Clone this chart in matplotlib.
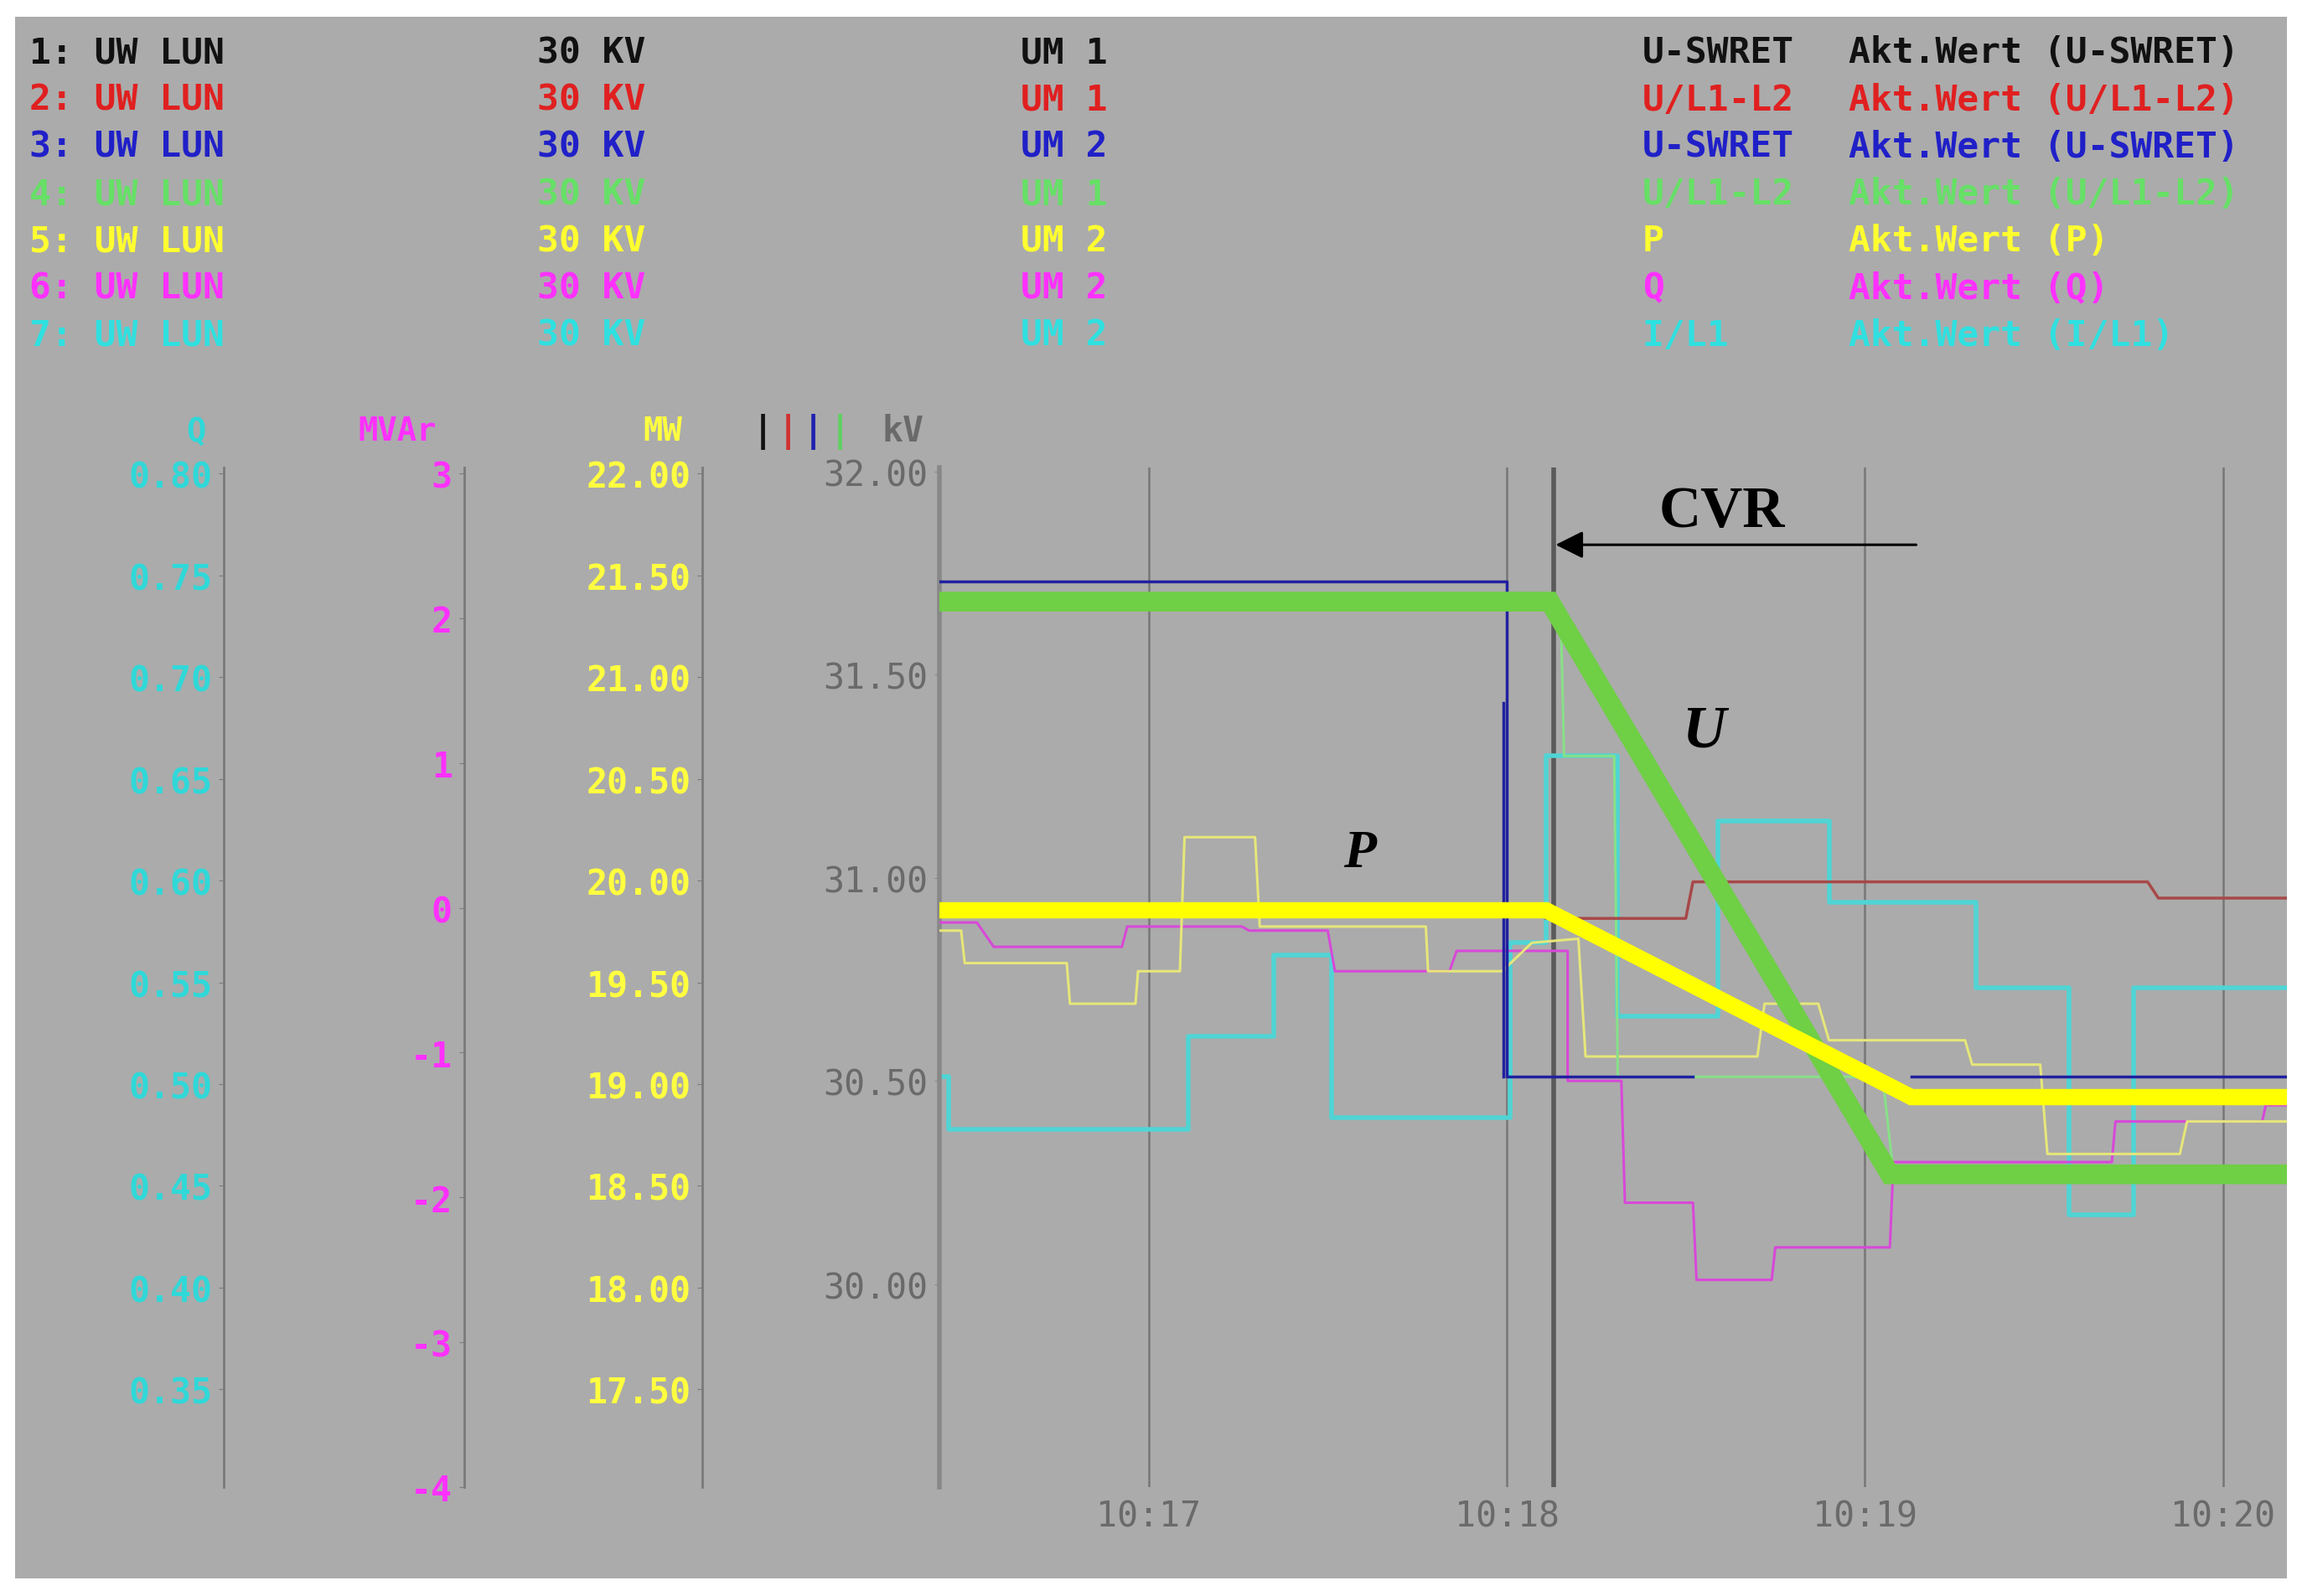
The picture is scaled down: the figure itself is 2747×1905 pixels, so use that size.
import matplotlib
matplotlib.use("Agg")
import matplotlib.pyplot as plt
from matplotlib.patches import Rectangle
import numpy as np

W, H = 1563.0, 1084.0  # reference layout units

# ---------------- data (time = minutes after 10:16, values in kV scale) -------------
t_U = [0.416, 2.12, 3.07, 4.20]
v_U = [31.68, 31.68, 30.27, 30.27]
t_P = [0.416, 2.11, 3.13, 4.20]
v_P = [30.92, 30.92, 30.46, 30.46]
t_blue = [0.416, 2.00, 2.00, 2.52, 2.60, 3.13, 4.20]
v_blue = [31.73, 31.73, 30.51, 30.51, np.nan, 30.51, 30.51]
t_blue2 = [1.99, 1.99]
v_blue2 = [31.43, 30.51]
t_red = [2.11, 2.50, 2.52, 3.79, 3.82, 4.20]
v_red = [30.90, 30.90, 30.99, 30.99, 30.95, 30.95]
t_yel = [0.416, 0.476, 0.486, 0.771, 0.78, 0.963, 0.97, 1.087, 1.10, 1.297, 1.31, 1.774, 1.78, 1.987, 2.07,
         2.20, 2.22, 2.70, 2.72, 2.87, 2.90, 3.28, 3.30, 3.49, 3.51, 3.88, 3.90, 4.20]
v_yel = [30.87, 30.87, 30.79, 30.79, 30.69, 30.69, 30.77, 30.77, 31.10, 31.10, 30.88, 30.88, 30.77, 30.77, 30.84,
         30.85, 30.56, 30.56, 30.69, 30.69, 30.60, 30.60, 30.54, 30.54, 30.32, 30.32, 30.40, 30.40]
t_mag = [0.416, 0.52, 0.567, 0.925, 0.94, 1.26, 1.28, 1.50, 1.52, 1.84, 1.86, 2.17, 2.17, 2.32, 2.33, 2.52, 2.53,
         2.74, 2.75, 3.07, 3.08, 3.69, 3.70, 4.11, 4.12, 4.20]
v_mag = [30.89, 30.89, 30.83, 30.83, 30.88, 30.88, 30.87, 30.87, 30.77, 30.77, 30.82, 30.82, 30.50, 30.50, 30.20,
         30.20, 30.01, 30.01, 30.09, 30.09, 30.30, 30.30, 30.40, 30.40, 30.44, 30.44]
t_cyan = [0.416, 0.42, 0.44, 1.10, 1.11, 1.34, 1.35, 1.50, 1.51, 2.00, 2.01, 2.10, 2.11, 2.30, 2.31,
          2.58, 2.59, 2.89, 2.90, 3.30, 3.31, 3.56, 3.57, 3.74, 3.75, 4.20]
v_cyan = [30.51, 30.51, 30.38, 30.38, 30.61, 30.61, 30.81, 30.81, 30.41, 30.41, 30.84, 30.84, 31.30, 31.30, 30.66,
          30.66, 31.14, 31.14, 30.94, 30.94, 30.73, 30.73, 30.17, 30.17, 30.73, 30.73]
t_grn = [2.10, 2.15, 2.16, 2.30, 2.31, 3.05, 3.08, 4.20]
v_grn = [31.68, 31.68, 31.30, 31.30, 30.51, 30.51, 30.27, 30.27]

kv_ticks = [32.00, 31.50, 31.00, 30.50, 30.00]
time_ticks = [1, 2, 3, 4]
time_labels = ["10:17", "10:18", "10:19", "10:20"]
mvar_ticks = [3, 2, 1, 0, -1, -2, -3, -4]
mw_ticks = [22.00, 21.50, 21.00, 20.50, 20.00, 19.50, 19.00, 18.50, 18.00, 17.50]
q_ticks = [0.80, 0.75, 0.70, 0.65, 0.60, 0.55, 0.50, 0.45, 0.40, 0.35]
cvr_time = 2.13

legend_rows = [
    ["1: UW LUN", "30 KV", "UM 1", "U-SWRET", "Akt.Wert (U-SWRET)"],
    ["2: UW LUN", "30 KV", "UM 1", "U/L1-L2", "Akt.Wert (U/L1-L2)"],
    ["3: UW LUN", "30 KV", "UM 2", "U-SWRET", "Akt.Wert (U-SWRET)"],
    ["4: UW LUN", "30 KV", "UM 1", "U/L1-L2", "Akt.Wert (U/L1-L2)"],
    ["5: UW LUN", "30 KV", "UM 2", "P", "Akt.Wert (P)"],
    ["6: UW LUN", "30 KV", "UM 2", "Q", "Akt.Wert (Q)"],
    ["7: UW LUN", "30 KV", "UM 2", "I/L1", "Akt.Wert (I/L1)"],
]
legend_colors = ["#111111", "#e02020", "#2020c8", "#66e066", "#ffff30", "#ff30ff", "#30e0e0"]
legend_x = [20, 365, 693, 1115, 1255]

# ---------------- figure ----------------
BG = "#ababab"
fig = plt.figure(figsize=(27.47, 19.06), dpi=100)
fig.patch.set_facecolor("white")
fig.patches.append(Rectangle((10 / W, 1 - 1072 / H), 1543 / W, 1060 / H, transform=fig.transFigure,
                             facecolor=BG, edgecolor="none", zorder=-10))

def fx(x): return x / W
def fy(y): return 1 - y / H

top, bot = 318, 1010
mono = "DejaVu Sans Mono"

ax = fig.add_axes([fx(638), fy(bot), fx(1553) - fx(638), (bot - top) / H])
ax.set_facecolor(BG)
ax.set_xlim(0.416, 4.18)
ax.set_ylim(29.50, 32.01)
for s in ["top", "right", "bottom"]:
    ax.spines[s].set_visible(False)
ax.spines["left"].set_color("#888888")
ax.spines["left"].set_linewidth(4)
ax.set_yticks(kv_ticks)
ax.set_yticklabels([f"{v:.2f}" for v in kv_ticks], fontfamily=mono, fontsize=30, color="#6a6a6a")
ax.tick_params(axis="y", length=4, color="#888888", pad=6)
ax.set_xticks(time_ticks)
ax.set_xticklabels(time_labels, fontfamily=mono, fontsize=30, color="#6a6a6a")
ax.tick_params(axis="x", length=0, pad=10)
for t in time_ticks:
    ax.axvline(t, color="#777777", lw=1.8, zorder=1)
ax.axvline(cvr_time, color="#5a5a5a", lw=4, zorder=1)

ax.step(t_cyan, v_cyan, where="post", color="#50d4d4", lw=4, zorder=2)
ax.plot(t_mag, v_mag, color="#d848d8", lw=2.2, zorder=3)
ax.plot(t_yel, v_yel, color="#e6e67a", lw=2.2, zorder=3)
ax.plot(t_grn, v_grn, color="#88e088", lw=2.2, zorder=3)
ax.plot(t_red, v_red, color="#a84848", lw=2.5, zorder=3)
ax.plot(t_blue, v_blue, color="#2020a0", lw=2.5, zorder=3)
ax.plot(t_blue2, v_blue2, color="#2020a0", lw=2.5, zorder=3)
ax.plot(t_U, v_U, color="#6fcf45", lw=17, zorder=4, solid_joinstyle="miter")
ax.plot(t_P, v_P, color="#ffff00", lw=14, zorder=5, solid_joinstyle="miter")

ax.annotate("", xy=(cvr_time, 31.82), xytext=(3.15, 31.82),
            arrowprops=dict(arrowstyle="-|>", color="black", lw=2.2, mutation_scale=50), zorder=6)
ax.text(2.60, 31.90, "CVR", fontfamily="Liberation Serif", fontweight="bold", fontsize=50,
        ha="center", va="center", color="black")
ax.text(2.55, 31.36, "U", fontfamily="Liberation Serif", fontweight="bold", fontstyle="italic",
        fontsize=52, ha="center", va="center", color="black")
ax.text(1.59, 31.06, "P", fontfamily="Liberation Serif", fontweight="bold", fontstyle="italic",
        fontsize=46, ha="center", va="center", color="black")

def side_axis(xpos, lims, ticks, labels, color):
    a = fig.add_axes([fx(xpos), fy(bot), 0.001, (bot - top) / H])
    a.patch.set_visible(False)
    for s in ["top", "right", "bottom"]:
        a.spines[s].set_visible(False)
    a.spines["left"].set_color("#7a7a7a")
    a.spines["left"].set_linewidth(2)
    a.set_xticks([])
    a.set_ylim(*lims)
    a.set_yticks(ticks)
    a.set_yticklabels(labels, fontfamily=mono, fontsize=30, color=color, fontweight="bold")
    a.tick_params(axis="y", length=4, color="#7a7a7a", pad=6)
    return a

side_axis(477, (17.02, 22.03), mw_ticks, [f"{v:.2f}" for v in mw_ticks], "#ffff40")
side_axis(315, (-3.96, 3.04), mvar_ticks, [str(v) for v in mvar_ticks], "#ff30ff")
side_axis(152, (0.302, 0.803), q_ticks, [f"{v:.2f}" for v in q_ticks], "#30d8d8")

# headers
hy = fy(293)
fig.text(fx(133), hy, "Q", color="#30d8d8", fontfamily=mono, fontsize=28, fontweight="bold", ha="center", va="center")
fig.text(fx(270), hy, "MVAr", color="#ff30ff", fontfamily=mono, fontsize=28, fontweight="bold", ha="center", va="center")
fig.text(fx(450), hy, "MW", color="#ffff40", fontfamily=mono, fontsize=28, fontweight="bold", ha="center", va="center")
for xb, cb in zip([518, 535, 552, 570], ["#111111", "#d03030", "#2020b0", "#60d060"]):
    fig.text(fx(xb), hy, "|", color=cb, fontfamily=mono, fontsize=30, fontweight="bold", ha="center", va="center")
fig.text(fx(613), hy, "kV", color="#6a6a6a", fontfamily=mono, fontsize=30, fontweight="bold", ha="center", va="center")

# legend block
for i, (row, col) in enumerate(zip(legend_rows, legend_colors)):
    y = fy(36 + 32 * i)
    for x, txt in zip(legend_x, row):
        fig.text(fx(x), y, txt, color=col, fontfamily=mono, fontsize=31, fontweight="bold",
                 ha="left", va="center")

fig.savefig("out.png", dpi=100, facecolor=fig.get_facecolor())
